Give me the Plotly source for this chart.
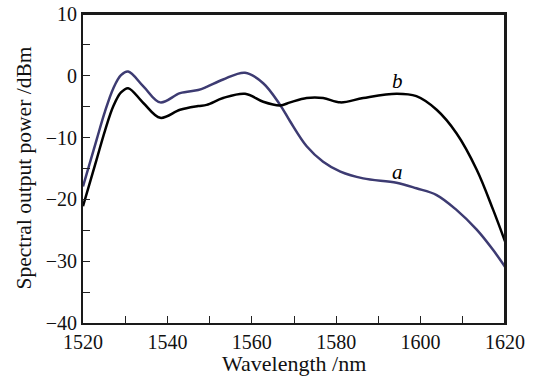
import plotly.graph_objects as go

wavelength = [1520, 1523.2, 1525.2, 1527.2, 1529, 1530.7, 1534.3, 1538.3, 1543, 1547.3, 1549.3, 1553.2,
              1558.4, 1562.7, 1566.7, 1569.1, 1573, 1576.9, 1581, 1586.4, 1594.3, 1599,
              1603.8, 1608.5, 1613.3, 1617.2, 1620]
power_a = [-17.9, -10.4, -5.8, -2.0, 0.1, 0.7, -1.7, -4.3, -2.8, -2.3, -1.8, -0.6,
           0.5, -1.2, -4.7, -7.4, -11.4, -13.9, -15.5, -16.6, -17.3, -18.2,
           -19.3, -21.7, -24.9, -28.2, -30.9]
power_b = [-21.1, -13.6, -8.9, -4.9, -2.7, -2.0, -4.4, -6.8, -5.5, -4.9, -4.7, -3.6,
           -2.9, -4.2, -4.8, -4.3, -3.6, -3.6, -4.3, -3.6, -2.9, -3.3,
           -5.5, -9.3, -15.2, -21.7, -26.8]

x_tickvals = [1520, 1530, 1540, 1550, 1560, 1570, 1580, 1590, 1600, 1610, 1620]
x_ticktext = ["1520", "", "1540", "", "1560", "", "1580", "", "1600", "", "1620"]
y_tickvals = [-40, -35, -30, -25, -20, -15, -10, -5, 0, 5, 10]
y_ticktext = ["\u221240", "", "\u221230", "", "\u221220", "", "\u221210", "", "0", "", "10"]

labels = [("b", 1594.6, -0.8), ("a", 1594.6, -15.5)]

FONT = "Liberation Serif"

fig = go.Figure()
fig.add_trace(go.Scatter(x=wavelength, y=power_a, mode="lines",
                         line=dict(color="#3d3b72", width=2.5, shape="spline", smoothing=1.0),
                         showlegend=False))
fig.add_trace(go.Scatter(x=wavelength, y=power_b, mode="lines",
                         line=dict(color="#000000", width=2.5, shape="spline", smoothing=1.0),
                         showlegend=False))

for txt, lx, ly in labels:
    fig.add_annotation(x=lx, y=ly, text="<i>%s</i>" % txt, showarrow=False,
                       font=dict(family=FONT, size=21, color="black"))

axis_common = dict(showgrid=False, zeroline=False, showline=True, linecolor="#1a1a1a",
                   linewidth=2, mirror=True, ticks="inside", ticklen=7, tickwidth=1.3,
                   tickcolor="#222222", automargin=False,
                   tickfont=dict(family=FONT, size=20, color="#111111"))

fig.update_xaxes(range=[1520, 1620], tickmode="array", tickvals=x_tickvals,
                 ticktext=x_ticktext, **axis_common)
fig.update_yaxes(range=[-40, 10], tickmode="array", tickvals=y_tickvals,
                 ticktext=y_ticktext, **axis_common)

# plot frame (top and right edges)
fig.add_shape(type="line", xref="paper", yref="paper", x0=0, y0=1, x1=1, y1=1,
              line=dict(color="#1a1a1a", width=2), layer="above")
fig.add_shape(type="line", xref="paper", yref="paper", x0=1, y0=0, x1=1, y1=1,
              line=dict(color="#1a1a1a", width=2), layer="above")

fig.add_annotation(xref="paper", yref="paper", x=0.5, y=-0.132, yanchor="middle",
                   text="Wavelength /nm", showarrow=False,
                   font=dict(family=FONT, size=22, color="#111111"))
fig.add_annotation(xref="paper", yref="paper", x=-0.142, y=0.5, xanchor="center",
                   yanchor="middle", text="Spectral output power /dBm", showarrow=False,
                   textangle=-90, font=dict(family=FONT, size=21.5, color="#111111"))

fig.update_layout(width=543, height=378, margin=dict(l=83, r=38, t=14, b=55),
                  plot_bgcolor="white", paper_bgcolor="white")

fig.write_html("out.html", config={"displayModeBar": False},
               post_script="document.body.style.margin='0';document.body.style.padding='0';"
                           "document.body.style.overflow='hidden';")
